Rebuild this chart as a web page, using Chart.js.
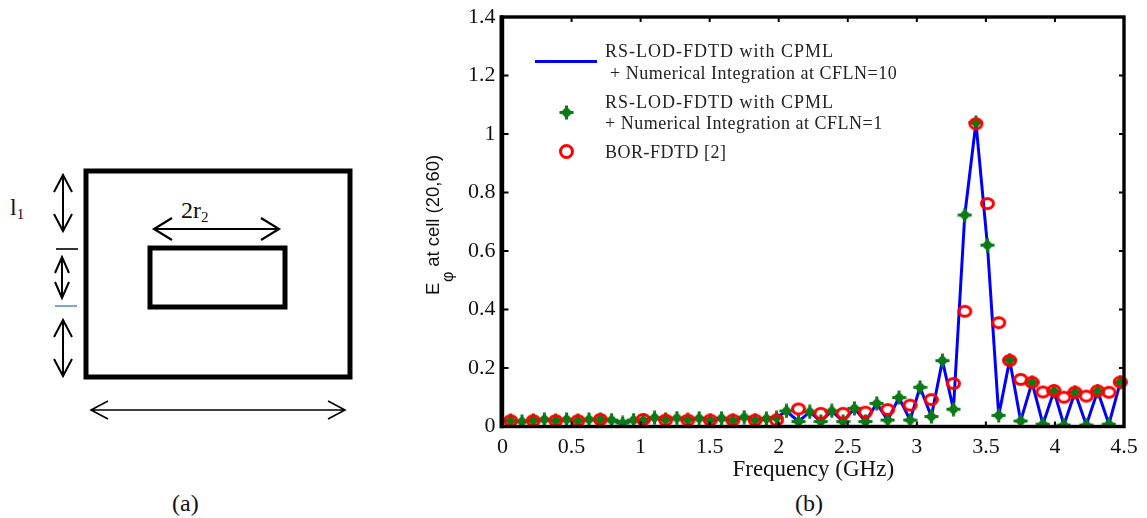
<!DOCTYPE html>
<html>
<head>
<meta charset="utf-8">
<title>E-phi at cell (20,60)</title>
<script src="https://cdn.jsdelivr.net/npm/chart.js@4"></script>
<style>
    html, body { margin: 0; padding: 0; background: #fff; }
    body { width: 1147px; height: 518px; position: relative; overflow: hidden; }
    #schematic { position: absolute; left: 0; top: 0; }
    #wrap { position: absolute; left: 420px; top: 0; width: 727px; height: 518px; }
    .caption { position: absolute; top: 490px; font: 24px "Liberation Serif", serif; color: #111; }
</style>
</head>
<body>
<svg id="schematic" width="420" height="518" font-family="Liberation Serif" fill="#111">
    <g fill="none" stroke="#000">
        <rect x="86" y="171" width="264" height="206" stroke-width="5"/>
        <rect x="150" y="248" width="135" height="59" stroke-width="5"/>
        <path stroke-width="2.2" d="M154 229H279M172 218L154 229L172 240M261 218L279 229L261 240"/>
        <path stroke-width="2" d="M63 175V231M54 192L63 175L72 192M54 214L63 231L72 214"/>
        <path stroke-width="2" d="M62 257V298M55 273L62 257L69 273M55 282L62 298L69 282"/>
        <path stroke-width="2" d="M63 320V376M54 337L63 320L72 337M54 359L63 376L72 359"/>
        <path stroke-width="1.6" d="M91 410H345M108 401L91 410L108 419M328 401L345 410L328 419"/>
        <path stroke-width="1.6" d="M56 249H78"/>
        <path stroke-width="1.6" stroke="#5b8fd0" d="M55 306H77"/>
    </g>
    <text x="10" y="215" font-size="24">l<tspan font-size="15" dy="4">1</tspan></text>
    <text x="181" y="218" font-size="24">2r<tspan font-size="15" dy="4">2</tspan></text>
</svg>
<div class="caption" style="left:172px">(a)</div>
<div class="caption" style="left:795px">(b)</div>
<div id="wrap"><canvas id="fieldChart" width="727" height="518"></canvas></div>

<script>
(function fieldPlot () {
    'use strict';

    // values
    var cflnFreq = [
        0.059, 0.141, 0.223, 0.303, 0.385, 0.464, 0.546, 0.626, 0.708, 0.790,
        0.870, 0.949, 1.019, 1.101, 1.181, 1.263, 1.342, 1.424, 1.504, 1.586,
        1.668, 1.750, 1.829, 1.911, 1.984, 2.056, 2.143, 2.225, 2.305, 2.384,
        2.466, 2.548, 2.628, 2.710, 2.789, 2.871, 2.951, 3.023, 3.105, 3.185,
        3.265, 3.347, 3.428, 3.511, 3.593, 3.672, 3.752, 3.834, 3.913, 3.993,
        4.065, 4.145, 4.227, 4.309, 4.391, 4.473
    ];
    var cflnField = [
        0.020, 0.017, 0.021, 0.024, 0.020, 0.024, 0.020, 0.024, 0.024, 0.022,
        0.012, 0.022, 0.021, 0.030, 0.024, 0.029, 0.023, 0.028, 0.021, 0.028,
        0.021, 0.032, 0.022, 0.027, 0.030, 0.053, 0.017, 0.050, 0.017, 0.053,
        0.017, 0.062, 0.017, 0.079, 0.022, 0.099, 0.022, 0.134, 0.034, 0.225,
        0.059, 0.723, 1.039, 0.620, 0.038, 0.227, 0.019, 0.151, 0.008, 0.121,
        0.005, 0.117, 0.005, 0.121, 0.008, 0.151
    ];
    var borFreq = [
        0.059, 0.223, 0.385, 0.546, 0.708, 1.019, 1.181, 1.342, 1.504, 1.668,
        1.829, 1.984, 2.143, 2.305, 2.466, 2.628, 2.789, 2.951, 3.105, 3.265,
        3.347, 3.428, 3.511, 3.593, 3.672, 3.752, 3.834, 3.913, 3.993, 4.065,
        4.145, 4.227, 4.309, 4.391, 4.473
    ];
    var borField = [
        0.020, 0.020, 0.020, 0.020, 0.024, 0.024, 0.022, 0.022, 0.022, 0.022,
        0.022, 0.022, 0.060, 0.045, 0.045, 0.049, 0.058, 0.073, 0.092, 0.147,
        0.394, 1.035, 0.762, 0.355, 0.226, 0.161, 0.151, 0.118, 0.123, 0.100,
        0.117, 0.104, 0.122, 0.117, 0.152
    ];
    var yTickLabels = ['0', '0.2', '0.4', '0.6', '0.8', '1', '1.2', '1.4'];
    var xTickLabels = ['0', '0.5', '1', '1.5', '2', '2.5', '3', '3.5', '4', '4.5'];

    var serif = '"Liberation Serif"';
    var overAxes = { left: 8, top: 8, right: 8, bottom: 0 };
    var legendLines = [
        ['RS-LOD-FDTD with CPML', ' + Numerical Integration at CFLN=10'],
        ['RS-LOD-FDTD with CPML', '+ Numerical Integration at CFLN=1'],
        ['BOR-FDTD [2]']
    ];

    function pairs(xs, ys) {
        return xs.map(function (x, i) { return { x: x, y: ys[i] }; });
    }

    // plus on top of a diamond, the star style of the library leaves notches
    function greenMarker() {
        var m = document.createElement('canvas');
        m.width = 15;
        m.height = 15;
        var c = m.getContext('2d');
        c.fillStyle = '#0a7a14';
        c.beginPath();
        c.moveTo(7.5, 1.5); c.lineTo(13.5, 7.5); c.lineTo(7.5, 13.5); c.lineTo(1.5, 7.5);
        c.closePath();
        c.fill();
        c.fillRect(6, 0.5, 3, 14);
        c.fillRect(0.5, 6, 14, 3);
        return m;
    }

    // circles come out slightly flattened in the original
    function redMarker() {
        var m = document.createElement('canvas');
        m.width = 17;
        m.height = 15;
        var c = m.getContext('2d');
        c.strokeStyle = '#ff0000';
        c.lineWidth = 3;
        c.beginPath();
        c.ellipse(8.5, 7.5, 6, 5, 0, 0, 2 * Math.PI);
        c.stroke();
        return m;
    }

    var greenPoint = greenMarker();
    var redPoint = redMarker();

    // MATLAB style box with inward ticks, the legend and the y title
    var framePlugin = {
        id: 'frame',
        afterDatasetsDraw: function (chart) {
            var c = chart.ctx, a = chart.chartArea;
            var xs = chart.scales.x, ys = chart.scales.y;
            c.save();
            c.strokeStyle = '#000';
            c.lineWidth = 2;
            xs.ticks.forEach(function (t) {
                var p = xs.getPixelForValue(t.value);
                c.beginPath();
                c.moveTo(p, a.bottom); c.lineTo(p, a.bottom - 5);
                c.moveTo(p, a.top); c.lineTo(p, a.top + 5);
                c.stroke();
            });
            ys.ticks.forEach(function (t) {
                var p = ys.getPixelForValue(t.value);
                c.beginPath();
                c.moveTo(a.left, p); c.lineTo(a.left + 6, p);
                c.moveTo(a.right, p); c.lineTo(a.right - 5, p);
                c.stroke();
            });
            c.lineWidth = 3.4;
            c.strokeRect(a.left, a.top, a.right - a.left, a.bottom - a.top);
            c.lineWidth = 4;
            c.beginPath();
            c.moveTo(a.left - 1, a.top - 1.7); c.lineTo(a.left - 1, a.bottom + 1.7);
            c.stroke();

            // legend, the original text is set wider than the font
            c.fillStyle = '#222';
            c.font = '18px ' + serif;
            c.textBaseline = 'alphabetic';
            c.letterSpacing = '1px';
            c.fillText(legendLines[0][0], 185, 57);
            c.fillText(legendLines[1][0], 185, 107.5);
            c.letterSpacing = '0.5px';
            c.fillText(legendLines[0][1], 185, 79);
            c.fillText(legendLines[1][1], 185, 129);
            c.fillText(legendLines[2][0], 185, 158);
            c.letterSpacing = '0px';
            c.strokeStyle = '#0000ff';
            c.lineWidth = 3;
            c.beginPath();
            c.moveTo(115, 61.5); c.lineTo(177, 61.5);
            c.stroke();
            c.drawImage(greenPoint, 139, 105);
            c.strokeStyle = '#ff0000';
            c.beginPath();
            c.arc(146.5, 151.5, 6, 0, 2 * Math.PI);
            c.stroke();

            // y title, subscript has to be placed by hand
            c.translate(18.5, 295);
            c.rotate(-Math.PI / 2);
            c.fillStyle = '#111';
            c.font = '18.5px "Liberation Sans"';
            c.fillText('E', 0, 0);
            c.fillText(' at cell (20,60)', 23, 0);
            c.font = '16px "Liberation Sans"';
            c.fillText('\u03c6', 13, 14);
            c.restore();
        }
    };

    new Chart(document.getElementById('fieldChart').getContext('2d'), {
        type: 'scatter',
        data: {
            datasets: [{
                label: 'RS-LOD-FDTD with CPML + Numerical Integration at CFLN=10',
                data: pairs(cflnFreq, cflnField),
                showLine: true,
                borderColor: '#0000ff',
                borderWidth: 3,
                borderJoinStyle: 'round',
                pointRadius: 0,
                tension: 0,
                clip: overAxes,
                order: 3
            }, {
                label: 'RS-LOD-FDTD with CPML + Numerical Integration at CFLN=1',
                data: pairs(cflnFreq, cflnField),
                pointStyle: greenPoint,
                clip: overAxes,
                order: 2
            }, {
                label: 'BOR-FDTD [2]',
                data: pairs(borFreq, borField),
                pointStyle: redPoint,
                clip: overAxes,
                order: 1
            }]
        },
        options: {
            responsive: false,
            animation: false,
            devicePixelRatio: 1,
            layout: { padding: { left: 0, top: 17, right: 23, bottom: 34 } },
            plugins: {
                legend: { display: false },
                tooltip: { enabled: false }
            },
            scales: {
                x: {
                    type: 'linear',
                    min: 0,
                    max: 4.5,
                    afterFit: function (s) {
                        s.height = 57.5;
                        s.paddingLeft = 0;
                        s.paddingRight = 0;
                    },
                    grid: { display: false, drawTicks: false },
                    border: { display: false },
                    title: {
                        display: true,
                        text: 'Frequency (GHz)',
                        color: '#111',
                        padding: { top: 2, bottom: 0 },
                        font: { family: serif, size: 23 }
                    },
                    ticks: {
                        stepSize: 0.5,
                        autoSkip: false,
                        maxRotation: 0,
                        padding: 8,
                        color: '#111',
                        font: { family: serif, size: 22 },
                        callback: function (v) { return xTickLabels[Math.round(v * 2)]; }
                    }
                },
                y: {
                    min: 0,
                    max: 1.4,
                    afterFit: function (s) {
                        s.width = 82.5;
                        s.paddingTop = 0;
                        s.paddingBottom = 0;
                    },
                    grid: { display: false, drawTicks: false },
                    border: { display: false },
                    ticks: {
                        stepSize: 0.2,
                        autoSkip: false,
                        padding: 7,
                        color: '#111',
                        font: { family: serif, size: 22 },
                        callback: function (v) { return yTickLabels[Math.round(v * 5)]; }
                    }
                }
            }
        },
        plugins: [framePlugin]
    });
}());
</script>
</body>
</html>
